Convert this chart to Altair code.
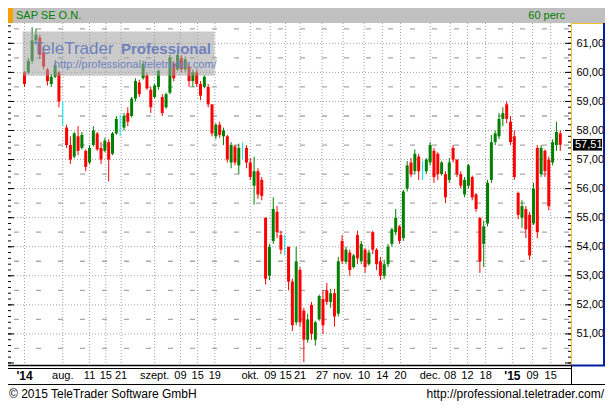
import altair as alt
import pandas as pd

# ---------------- data ----------------
TITLE = "SAP SE O.N."
PERIOD = "60 perc"
FOOTER_LEFT = "\u00a9 2015 TeleTrader Software GmbH"
FOOTER_RIGHT = "http://professional.teletrader.com/"
WM_1 = "TeleTrader"
WM_2 = "Professional"
WM_URL = "http://professional.teletrader.com/"

opens = [60.0, 60.0, 60.4, 61.1, 61.2, 60.7, 60.1, 59.6, 59.85, 60.0,
         58.6, 58.1, 57.5, 57.1, 57.8, 57.4, 57.3, 56.9, 57.5, 57.9,
         57.4, 57.3, 57.6, 57.2, 57.9, 58.3, 58.1, 58.6, 58.5, 59.1,
         59.65, 59.8, 59.9, 59.4, 59.15, 59.5, 59.15, 58.8, 59.3, 60.3,
         60.1, 60.5, 60.1, 60.2, 59.7, 60.0, 59.6, 59.5, 59.5, 58.9,
         57.8, 58.2, 57.8, 57.8, 56.9, 57.45, 56.8, 57.4, 57.4, 56.9,
         56.1, 56.6, 56.3, 55.0, 53.0, 54.2, 55.2, 54.4, 54.1, 54.0,
         52.8, 51.4, 53.2, 51.8, 50.8, 52.0, 50.8, 51.5, 52.2, 52.5,
         52.1, 52.4, 51.7, 54.2, 53.5, 53.8, 53.3, 54.4, 53.5, 53.9,
         53.4, 54.5, 53.9, 53.5, 53.0, 53.4, 54.1, 54.5, 54.7, 54.3,
         56.0, 56.9, 56.6, 57.1, 56.6, 56.6, 56.9, 57.3, 57.2, 56.5,
         56.5, 56.3, 57.4, 57.0, 56.5, 55.8, 56.1, 56.4, 55.8, 55.0,
         54.1, 54.8, 56.3, 57.6, 57.8, 58.4, 58.9, 58.3, 57.8, 55.85,
         55.0, 55.3, 55.1, 54.8, 57.4, 56.5, 57.3, 57.0, 56.9, 57.5,
         57.9]
highs = [60.05, 60.5, 61.55, 61.5, 61.3, 60.85, 60.15, 59.95, 60.35, 60.05,
         59.0, 58.2, 57.8, 57.95, 58.15, 57.95, 57.35, 57.5, 58.15, 57.95,
         57.6, 57.75, 57.7, 57.95, 58.5, 58.55, 58.6, 58.8, 59.15, 59.8,
         59.75, 60.4, 60.0, 59.5, 59.6, 60.1, 59.25, 59.3, 60.6, 60.4,
         60.75, 60.6, 60.55, 60.3, 60.1, 60.1, 59.7, 59.9, 59.6, 58.9,
         58.25, 58.3, 58.1, 57.85, 57.6, 57.5, 57.55, 57.6, 57.5, 57.05,
         57.1, 56.7, 56.4, 55.0, 54.1, 55.7, 55.4, 54.55, 54.4, 54.0,
         52.9, 54.0, 53.3, 51.9, 51.7, 52.1, 51.45, 52.35, 52.5, 52.75,
         52.55, 52.55, 53.65, 54.4, 54.0, 53.9, 53.75, 54.55, 54.2, 53.95,
         53.9, 54.55, 53.95, 53.65, 53.55, 54.1, 54.65, 55.3, 54.75, 55.95,
         56.95, 57.05, 57.35, 57.2, 56.95, 57.05, 57.6, 57.4, 57.25, 56.95,
         56.6, 57.05, 57.5, 57.0, 56.6, 56.4, 56.85, 56.45, 55.85, 55.0,
         54.9, 56.3, 57.85, 58.0, 58.6, 58.8, 59.0, 58.5, 58.0, 55.9,
         55.6, 55.4, 55.2, 56.2, 57.5, 57.5, 57.35, 57.1, 57.7, 58.3,
         58.0]
lows = [59.5, 59.95, 60.3, 60.95, 60.45, 60.1, 59.55, 59.5, 59.8, 58.8,
        58.15, 57.4, 56.85, 57.05, 57.15, 57.35, 56.6, 56.85, 57.45, 57.3,
        56.85, 57.25, 56.25, 57.15, 57.85, 57.8, 58.0, 58.15, 58.45, 59.0,
        59.15, 59.75, 59.4, 58.6, 59.1, 59.4, 58.5, 58.75, 59.25, 59.7,
        60.05, 60.0, 60.0, 59.5, 59.5, 59.5, 59.05, 59.45, 58.8, 57.8,
        57.7, 57.75, 57.5, 56.9, 56.7, 56.8, 56.5, 57.0, 56.7, 56.3,
        55.45, 55.65, 55.6, 52.7, 52.85, 54.1, 54.3, 53.75, 53.7, 52.5,
        51.1, 51.3, 51.25, 50.03, 50.7, 50.8, 50.6, 51.45, 51.0, 52.0,
        51.9, 51.25, 51.6, 53.4, 53.4, 53.0, 53.25, 53.4, 53.4, 53.1,
        53.35, 53.75, 53.2, 52.85, 52.9, 53.3, 54.0, 54.4, 54.1, 54.2,
        55.9, 56.4, 56.5, 56.3, 56.3, 56.5, 56.8, 56.2, 56.3, 56.45,
        55.5, 56.2, 56.9, 56.4, 56.0, 55.7, 56.0, 55.6, 55.2, 53.1,
        53.3, 54.7, 56.2, 57.5, 57.7, 58.15, 58.25, 57.5, 56.3, 54.95,
        54.65, 54.3, 53.55, 54.75, 54.3, 56.4, 56.4, 55.25, 56.8, 57.3,
        57.3]
closes = [59.6, 60.4, 61.1, 61.3, 60.6, 60.2, 59.7, 59.85, 60.25, 59.0,
          58.6, 57.5, 57.0, 57.9, 57.3, 57.85, 56.75, 57.4, 58.0, 57.35,
          57.0, 57.65, 57.0, 57.9, 58.4, 58.3, 58.5, 58.3, 59.1, 59.7,
          59.25, 60.3, 59.45, 58.8, 59.55, 60.05, 58.6, 59.25, 60.5, 59.8,
          60.6, 60.1, 60.45, 59.7, 60.0, 59.6, 59.2, 59.85, 58.9, 57.9,
          58.2, 57.85, 58.0, 57.0, 57.5, 56.9, 57.4, 57.4, 56.9, 56.4,
          56.6, 55.8, 55.75, 52.9, 54.0, 55.3, 54.5, 53.9, 54.1, 52.8,
          51.3, 53.5, 51.4, 50.8, 51.5, 51.0, 51.4, 52.3, 51.3, 52.1,
          52.4, 51.6, 53.5, 53.5, 53.9, 53.2, 53.7, 53.6, 54.1, 53.3,
          53.8, 53.9, 53.4, 53.0, 53.4, 54.0, 54.6, 55.0, 54.2, 55.9,
          56.8, 56.5, 57.2, 56.6, 56.6, 57.0, 57.5, 56.4, 56.5, 56.9,
          55.7, 56.9, 57.0, 56.5, 56.1, 56.3, 56.8, 55.7, 55.3, 53.5,
          54.7, 56.2, 57.6, 57.9, 58.4, 58.6, 58.4, 57.6, 56.4, 55.1,
          55.4, 54.6, 53.7, 56.0, 54.5, 57.4, 56.6, 55.4, 57.6, 57.95,
          57.51]

tick_pos = [0, 10, 17, 21.25, 25.25, 34, 40.75, 45.25, 49.75, 59, 64.25,
            68.25, 72, 77.75, 83.25, 88.75, 93.5, 98.25, 106, 111.25, 115.75,
            120.5, 127.5, 132.75, 137.5]
tick_lab = ["'14", "aug.", "11", "15", "21", "szept.", "09", "15", "19",
            "okt.", "09", "15", "21", "27", "nov.", "10", "14", "20",
            "dec.", "08", "12", "18", "'15", "09", "15"]
tick_bold = [True] + [False] * 21 + [True, False, False]

price_labels = [51, 52, 53, 54, 55, 56, 57, 58, 59, 60, 61]
half_levels = [50.5, 51.5, 52.5, 53.5, 54.5, 55.5, 56.5, 57.5, 58.5, 59.5, 60.5, 61.5]
minor_ticks = [round(50.0 + 0.2 * k, 1) for k in range(59)]
y_domain = [49.93, 61.7]
x_domain = [-3, 141.5]

# ---------------- layout ----------------
PW, PH = 563, 342
RW = 34
TOP, BOT = 15, 38
W = PW + RW
FONT = "Liberation Sans"

xs = alt.Scale(domain=x_domain, nice=False, zero=False)
ys = alt.Scale(domain=y_domain, nice=False, zero=False)
yaxis = alt.Axis(orient="right", values=price_labels, title=None, ticks=False,
                 domain=False, grid=False, labelPadding=5, labelFont=FONT,
                 labelFontSize=11, labelColor="#000000", labelAlign="left",
                 labelExpr="replace(format(datum.value, '.2f'), '.', ',')")


def Y(field):
    return alt.Y(field, type="quantitative", scale=ys, axis=yaxis)


def X(field):
    return alt.X(field, type="quantitative", scale=xs, axis=None)


one = pd.DataFrame({"a": [0]})

df = pd.DataFrame({"i": list(range(len(opens))), "open": opens, "high": highs,
                   "low": lows, "close": closes})
df["dir"] = ["up" if c > o else ("down" if c < o else "flat")
             for o, c in zip(opens, closes)]
col = alt.Color("dir:N", scale=alt.Scale(domain=["up", "down", "flat"],
                range=["#008000", "#ff0000", "#00e8e8"]), legend=None)

ticks_df = pd.DataFrame({"p": tick_pos, "lab": tick_lab, "bold": tick_bold})

# grid
hgrid = alt.Chart(pd.DataFrame({"v": price_labels})).mark_rule(
    color="#a0a0a0", strokeDash=[1, 2]).encode(
    y=Y("v"), x=alt.value(0), x2=alt.value(PW))
hhalf = alt.Chart(pd.DataFrame({"v": half_levels})).mark_rule(
    color="#a8a8a8", strokeDash=[5, 17], strokeWidth=1.3).encode(
    y=Y("v"), x=alt.value(6), x2=alt.value(PW))
vgrid = alt.Chart(ticks_df).mark_rule(color="#a0a0a0", strokeDash=[1, 2]).encode(
    x=X("p"), y=alt.value(0), y2=alt.value(PH))

# side ticks
mt = pd.DataFrame({"v": minor_ticks})
mj = pd.DataFrame({"v": price_labels + [50]})
lminor = alt.Chart(mt).mark_rule(color="#000000").encode(
    y=Y("v"), x=alt.value(0), x2=alt.value(3))
lmajor = alt.Chart(mj).mark_rule(color="#000000").encode(
    y=Y("v"), x=alt.value(0), x2=alt.value(6))
rminor = alt.Chart(mt).mark_rule(color="#000000").encode(
    y=Y("v"), x=alt.value(PW - 3), x2=alt.value(PW))
rmajor = alt.Chart(mj).mark_rule(color="#000000").encode(
    y=Y("v"), x=alt.value(PW - 6), x2=alt.value(PW))

# candles
wicks = alt.Chart(df).mark_rule(strokeWidth=1).encode(
    x=X("i"), y=Y("low"), y2="high", color=col)
bodies = alt.Chart(df).mark_bar(size=3).encode(
    x=X("i"), y=Y("open"), y2="close", color=col)

# watermark
wm_rect = alt.Chart(one).mark_rect(color="#a0a0a0", opacity=0.55).encode(
    x=alt.value(14.6), x2=alt.value(206.5), y=alt.value(8.6), y2=alt.value(52.7))
wm_t1 = alt.Chart(one).mark_text(text=WM_1, align="left", baseline="alphabetic",
                                 font=FONT, fontSize=17, color="#6f82bd").encode(
    x=alt.value(25), y=alt.value(31))
wm_t2 = alt.Chart(one).mark_text(text=WM_2, align="left", baseline="alphabetic",
                                 font=FONT, fontSize=15, fontWeight="bold",
                                 color="#6f82bd").encode(
    x=alt.value(113), y=alt.value(31))
wm_t3 = alt.Chart(one).mark_text(text=WM_URL, align="left", baseline="alphabetic",
                                 font=FONT, fontSize=11, color="#6f82bd").encode(
    x=alt.value(46), y=alt.value(45))

# header
hdr = alt.Chart(one).mark_rect(color="#c0c0c0").encode(
    x=alt.value(0), x2=alt.value(W), y=alt.value(-TOP), y2=alt.value(0))
hdr_or = alt.Chart(one).mark_rect(color="#f5a000").encode(
    x=alt.value(0), x2=alt.value(5), y=alt.value(-TOP), y2=alt.value(0))
hdr_t = alt.Chart(one).mark_text(text=TITLE, align="left", baseline="middle",
                                 font=FONT, fontSize=11, color="#008000").encode(
    x=alt.value(8), y=alt.value(-7))
hdr_p = alt.Chart(one).mark_text(text=PERIOD, align="right", baseline="middle",
                                 font=FONT, fontSize=11, color="#008000").encode(
    x=alt.value(W - 40), y=alt.value(-7))

# frame lines
yellow_v = alt.Chart(one).mark_rule(color="#f0c030").encode(
    x=alt.value(PW + 0.5), y=alt.value(0), y2=alt.value(PH))
yellow_h = alt.Chart(one).mark_rule(color="#f0c030").encode(
    x=alt.value(PW), x2=alt.value(W - 2), y=alt.value(0.5))
blue_v = alt.Chart(one).mark_rule(color="#0020a0", strokeWidth=2).encode(
    x=alt.value(W - 1), y=alt.value(0), y2=alt.value(PH + 1))
blue_h = alt.Chart(one).mark_rule(color="#0020a0", strokeWidth=2).encode(
    x=alt.value(PW), x2=alt.value(W), y=alt.value(PH + 0.5))
base1 = alt.Chart(one).mark_rule(color="#000000", strokeWidth=1.5).encode(
    x=alt.value(0), x2=alt.value(PW), y=alt.value(PH + 0.5))
base2 = alt.Chart(one).mark_rule(color="#000000").encode(
    x=alt.value(0), x2=alt.value(PW), y=alt.value(PH + 3.5))
sep = alt.Chart(one).mark_rule(color="#000000").encode(
    x=alt.value(0), x2=alt.value(W), y=alt.value(PH + 19.5))
box_v = alt.Chart(one).mark_rule(color="#000000").encode(
    x=alt.value(PW + 0.5), y=alt.value(PH), y2=alt.value(PH + 19.5))

# x labels
xl_norm = alt.Chart(ticks_df).transform_filter("!datum.bold").mark_text(
    align="center", baseline="middle", font=FONT, fontSize=11, color="#000000").encode(
    x=X("p"), y=alt.value(PH + 11), text="lab:N")
xl_bold = alt.Chart(ticks_df).transform_filter("datum.bold").mark_text(
    align="center", baseline="middle", font=FONT, fontSize=12, fontWeight="bold",
    color="#000000").encode(
    x=X("p"), y=alt.value(PH + 11), text="lab:N")

# footer
ft_l = alt.Chart(one).mark_text(text=FOOTER_LEFT, align="left", baseline="middle",
                                font=FONT, fontSize=12, color="#000000").encode(
    x=alt.value(1), y=alt.value(PH + 29))
ft_r = alt.Chart(one).mark_text(text=FOOTER_RIGHT, align="right", baseline="middle",
                                font=FONT, fontSize=12, color="#000000").encode(
    x=alt.value(W - 1), y=alt.value(PH + 29))

# last price marker
last = closes[-1]
lp = pd.DataFrame({"lo": [last - 0.2], "hi": [last + 0.2], "c": [last],
                   "t": [f"{last:.2f}".replace(".", ",")]})
lp_box = alt.Chart(lp).mark_rect(color="#000000").encode(
    y=Y("lo"), y2="hi", x=alt.value(PW + 2), x2=alt.value(PW + 31))
lp_txt = alt.Chart(lp).mark_text(align="left", baseline="middle", font=FONT,
                                 fontSize=11, color="#ffffff").encode(
    y=Y("c"), x=alt.value(PW + 4), text="t:N")

chart = alt.layer(
    hgrid, hhalf, vgrid, lminor, lmajor, rminor, rmajor,
    wicks, bodies, wm_rect, wm_t1, wm_t2, wm_t3,
    hdr, hdr_or, hdr_t, hdr_p,
    yellow_v, yellow_h, blue_v, blue_h, base1, base2, sep, box_v,
    xl_norm, xl_bold, ft_l, ft_r, lp_box, lp_txt
).properties(
    width=PW, height=PH,
    autosize=alt.AutoSizeParams(type="none"),
    padding={"left": 0, "top": TOP, "right": RW, "bottom": BOT},
    background="#ffffff"
).configure_view(stroke=None)

chart.save("out.html", embed_options={"renderer": "svg", "actions": False})
